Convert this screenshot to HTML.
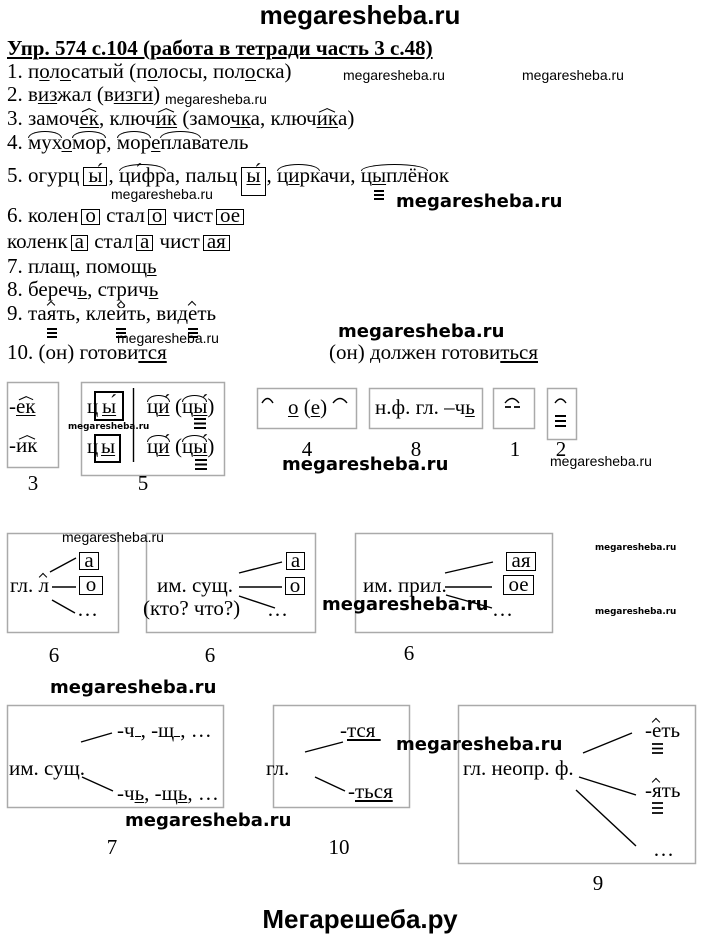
<!DOCTYPE html>
<html><head><meta charset="utf-8">
<style>
*{margin:0;padding:0}
html,body{width:720px;height:940px;background:#fff;overflow:hidden}
body{position:relative;font-family:"Liberation Serif","DejaVu Serif",serif;color:#000}
.a{position:absolute;white-space:nowrap;font-size:21px;line-height:20px}
.u{text-decoration:underline;text-decoration-thickness:1.3px;text-underline-offset:2px;text-decoration-skip-ink:none}
.uu{text-decoration:underline;text-decoration-thickness:2px;text-underline-offset:2px;text-decoration-skip-ink:none}
.r,.h,.hw,.e{position:relative}
.r::before{content:'';position:absolute;left:0;right:0;top:1px;height:6px;border:1.3px solid #000;border-bottom:0;border-radius:50% 50% 0 0/100% 100% 0 0}
.h::before{content:'';position:absolute;left:50%;top:1px;width:5px;height:5px;margin-left:-3.5px;border-left:1.3px solid #000;border-top:1.3px solid #000;transform:rotate(45deg)}
.hw::before{content:'';position:absolute;left:8%;width:43%;top:2px;border-top:1.3px solid #000;transform-origin:100% 0;transform:rotate(-24deg)}
.hw::after{content:'';position:absolute;right:8%;width:43%;top:2px;border-top:1.3px solid #000;transform-origin:0 0;transform:rotate(24deg)}
.e::after{content:'';position:absolute;left:50%;margin-left:-5px;width:10px;height:2px;top:27px;background:#000;box-shadow:0 4px 0 #000,0 8px 0 #000}
.bx{display:inline-block;border:1.6px solid #000;padding:0 3px 4px;line-height:10px;margin:0 1px 0 3px}
.b5{padding:2px 4px 5px;margin:0 1px 0 4px}
.b5t{padding:2px 4px 15px;margin:0 1px 0 4px}
.wm{position:absolute;white-space:nowrap;font:14px/14px "Liberation Sans",sans-serif}
.wb{position:absolute;white-space:nowrap;font:bold 18px/18px "DejaVu Sans",sans-serif}
.wt{position:absolute;white-space:nowrap;font:bold 8.8px/9px "DejaVu Sans",sans-serif}
.c{position:absolute;width:40px;text-align:center;font-size:21px;line-height:20px}
.k{position:absolute;box-sizing:border-box;border:1.6px solid #000;text-align:center;font-size:21px;white-space:nowrap}
.big{position:absolute;left:0;width:720px;text-align:center;font:bold 26px/26px "Liberation Sans",sans-serif}
</style></head><body>

<div class="big" style="top:2px">megaresheba.ru</div>

<div class="a" style="left:7px;top:38px;font-weight:bold;text-decoration:underline;text-decoration-thickness:1.5px;text-underline-offset:2px">Упр. 574 с.104 (работа в тетради часть 3 с.48)</div>

<div class="a" style="left:7px;top:61px">1. п<span class="u">о</span>л<span class="u">о</span>сатый (п<span class="u">о</span>лосы, пол<span class="u">о</span>ска)</div>
<div class="a" style="left:7px;top:84px">2. в<span class="u">и</span><span class="u">з</span>жал (в<span class="u">и</span><span class="u">зг</span><span class="u">и</span>)</div>
<div class="a" style="left:7px;top:108px">3. замоч<span class="hw u">ек</span>, ключ<span class="hw u">ик</span> (замо<span class="u">ч</span><span class="u">к</span>а, ключ<span class="hw u">ик</span>а)</div>
<div class="a" style="left:7px;top:132px">4. <span class="r">мух</span><span class="u">о</span><span class="r">мор</span>, <span class="r">мор</span><span class="u">е</span><span class="r">плав</span>атель</div>
<div class="a" style="left:7px;top:165px">5. огурц<span class="bx b5">ы́</span>, <span class="r">ци́фр</span>а, пальц<span class="bx b5t"><span class="u">ы́</span></span>, <span class="r">ц<span class="u">и</span>рк</span>ачи, <span class="r">ц<span class="u e">ы</span>плён</span>ок</div>
<div class="a" style="left:7px;top:205px">6. колен<span class="bx">о</span> стал<span class="bx">о</span> чист<span class="bx">ое</span></div>
<div class="a" style="left:7px;top:231px">коленк<span class="bx">а</span> стал<span class="bx">а</span> чист<span class="bx">ая</span></div>
<div class="a" style="left:7px;top:256px">7. плащ, помощ<span class="u">ь</span></div>
<div class="a" style="left:7px;top:279px">8. береч<span class="u">ь</span>, стрич<span class="u">ь</span></div>
<div class="a" style="left:7px;top:303px">9. та<span class="h e">я</span>ть, кле<span class="h e">й</span>ть, вид<span class="h e">е</span>ть</div>
<div class="a" style="left:7px;top:342px">10. (он) готови<span class="uu">тся</span></div>
<div class="a" style="left:329px;top:342px">(он) должен готови<span class="uu">ться</span></div>

<svg width="720" height="940" style="position:absolute;left:0;top:0" fill="none" stroke="#000" stroke-width="1.4">
<g stroke="#aaa" stroke-width="1.5">
<rect x="7.5" y="382.5" width="51" height="85"/>
<rect x="81.5" y="382.5" width="143" height="93"/>
<rect x="257.5" y="388.5" width="99" height="40"/>
<rect x="369.5" y="388.5" width="113" height="40"/>
<rect x="493.5" y="388.5" width="41" height="40"/>
<rect x="547.5" y="388.5" width="29" height="51"/>
<rect x="7.5" y="533.5" width="111" height="99"/>
<rect x="146.5" y="533.5" width="169" height="99"/>
<rect x="355.5" y="533.5" width="197" height="99"/>
<rect x="7.5" y="705.5" width="216" height="102"/>
<rect x="273.5" y="705.5" width="136" height="102"/>
<rect x="458.5" y="705.5" width="237" height="158"/>
</g>
<rect x="95" y="392" width="28" height="28" stroke-width="2"/>
<rect x="95" y="435" width="25" height="27" stroke-width="2"/>
<line x1="133.5" y1="388" x2="133.5" y2="462"/>
<path d="M194 419h12M194 423.5h12M194 428h12M195 460h12M195 464.5h12M195 469h12" stroke-width="2"/>
<path d="M262 403Q267.5 394 273 403M333 403Q340 394 347 403"/>
<path d="M505 403Q512 394 519 403"/>
<path d="M505 407h6M514 407h6" stroke-width="1.8"/>
<path d="M555 403Q560.5 395 566 403"/>
<path d="M555 416h11M555 421h11M555 426h11" stroke-width="2"/>
<path d="M50 572L76 558M52 587H76M52 600L75 613"/>
<path d="M239 573L282 562M239 587H282M239 596L275 608"/>
<path d="M445 573L493 562M445 587H492M446 595L492 608"/>
<path d="M81 742L112 733M82 777L113 791"/>
<path d="M305 752L343 742M315 777L345 791"/>
<path d="M583 753L632 733M579 777L636 795M576 790L636 846"/>
<path d="M652 744h11M652 748.5h11M652 753h11M652 803h11M652 808h11M652 813h11" stroke-width="1.8"/>
</svg>

<!-- box 3 -->
<div class="a" style="left:9px;top:396px">-<span class="hw u">ек</span></div>
<div class="a" style="left:9px;top:435px">-<span class="hw">ик</span></div>
<!-- box 5 -->
<div class="a" style="left:87px;top:396px">ц</div>
<div class="a" style="left:102px;top:396px"><span class="u">ы́</span></div>
<div class="a" style="left:147px;top:396px"><span class="r">ц<span class="u">и́</span></span></div>
<div class="a" style="left:175px;top:396px">(<span class="r">ц<span class="u">ы́</span></span>)</div>
<div class="a" style="left:87px;top:436px">ц</div>
<div class="a" style="left:101px;top:436px"><span class="u">ы</span></div>
<div class="a" style="left:147px;top:436px"><span class="r">ц<span class="u">и́</span></span></div>
<div class="a" style="left:175px;top:436px">(<span class="r">ц<span class="u">ы́</span></span>)</div>
<!-- box 4, 8 -->
<div class="a" style="left:288px;top:397px"><span class="u">о</span> (<span class="u">е</span>)</div>
<div class="a" style="left:375px;top:397px">н.ф. гл. –ч<span class="u">ь</span></div>

<div class="c" style="left:13px;top:473px">3</div>
<div class="c" style="left:123px;top:473px">5</div>
<div class="c" style="left:287px;top:439px">4</div>
<div class="c" style="left:396px;top:439px">8</div>
<div class="c" style="left:495px;top:439px">1</div>
<div class="c" style="left:541px;top:439px">2</div>

<!-- row 2 -->
<div class="a" style="left:10px;top:575px">гл. <span class="h">л</span></div>
<div class="k" style="left:79px;top:552px;width:20px;height:18px;line-height:14.8px">а</div>
<div class="k" style="left:79px;top:576px;width:24px;height:19px;line-height:15.8px">о</div>
<div class="a" style="left:77px;top:599px">…</div>

<div class="a" style="left:157px;top:575px">им. сущ.</div>
<div class="a" style="left:143px;top:598px">(кто? что?)</div>
<div class="k" style="left:286px;top:552px;width:19px;height:18px;line-height:14.8px">а</div>
<div class="k" style="left:285px;top:577px;width:20px;height:18px;line-height:14.8px">о</div>
<div class="a" style="left:267px;top:599px">…</div>

<div class="a" style="left:363px;top:575px">им. прил.</div>
<div class="k" style="left:506px;top:552px;width:30px;height:19px;line-height:15.8px">ая</div>
<div class="k" style="left:503px;top:575px;width:31px;height:20px;line-height:16.8px">ое</div>
<div class="a" style="left:492px;top:599px">…</div>

<div class="c" style="left:34px;top:645px">6</div>
<div class="c" style="left:190px;top:645px">6</div>
<div class="c" style="left:389px;top:643px">6</div>

<!-- row 3 -->
<div class="a" style="left:9px;top:758px">им. сущ.</div>
<div class="a" style="left:117px;top:720px">-ч<span style="display:inline-block;width:6px;border-bottom:1.3px solid #000"></span>, -щ<span style="display:inline-block;width:6px;border-bottom:1.3px solid #000"></span>, …</div>
<div class="a" style="left:117px;top:783px">-ч<span class="u">ь</span>, -щ<span class="u">ь</span>, …</div>

<div class="a" style="left:266px;top:758px">гл.</div>
<div class="a" style="left:340px;top:720px">-<span class="uu">тся&nbsp;</span></div>
<div class="a" style="left:348px;top:781px">-<span class="uu">ться</span></div>

<div class="a" style="left:463px;top:758px">гл. неопр. ф.</div>
<div class="a" style="left:645px;top:720px">-<span class="h">е</span>ть</div>
<div class="a" style="left:645px;top:780px">-<span class="h">я</span>ть</div>
<div class="a" style="left:653px;top:839px">…</div>

<div class="c" style="left:92px;top:837px">7</div>
<div class="c" style="left:319px;top:837px">10</div>
<div class="c" style="left:578px;top:873px">9</div>

<!-- watermarks -->
<div class="wm" style="left:343px;top:68px">megaresheba.ru</div>
<div class="wm" style="left:522px;top:68px">megaresheba.ru</div>
<div class="wm" style="left:165px;top:92px">megaresheba.ru</div>
<div class="wm" style="left:111px;top:187px">megaresheba.ru</div>
<div class="wm" style="left:117px;top:331px">megaresheba.ru</div>
<div class="wm" style="left:550px;top:454px">megaresheba.ru</div>
<div class="wm" style="left:62px;top:530px">megaresheba.ru</div>

<div class="wb" style="left:396px;top:193px">megaresheba.ru</div>
<div class="wb" style="left:338px;top:323px">megaresheba.ru</div>
<div class="wb" style="left:282px;top:456px">megaresheba.ru</div>
<div class="wb" style="left:322px;top:596px">megaresheba.ru</div>
<div class="wb" style="left:50px;top:679px">megaresheba.ru</div>
<div class="wb" style="left:396px;top:736px">megaresheba.ru</div>
<div class="wb" style="left:125px;top:812px">megaresheba.ru</div>

<div class="wt" style="left:68px;top:423px">megaresheba.ru</div>
<div class="wt" style="left:595px;top:544px">megaresheba.ru</div>
<div class="wt" style="left:595px;top:608px">megaresheba.ru</div>

<div class="big" style="top:906px">Мегарешеба.ру</div>

</body></html>
